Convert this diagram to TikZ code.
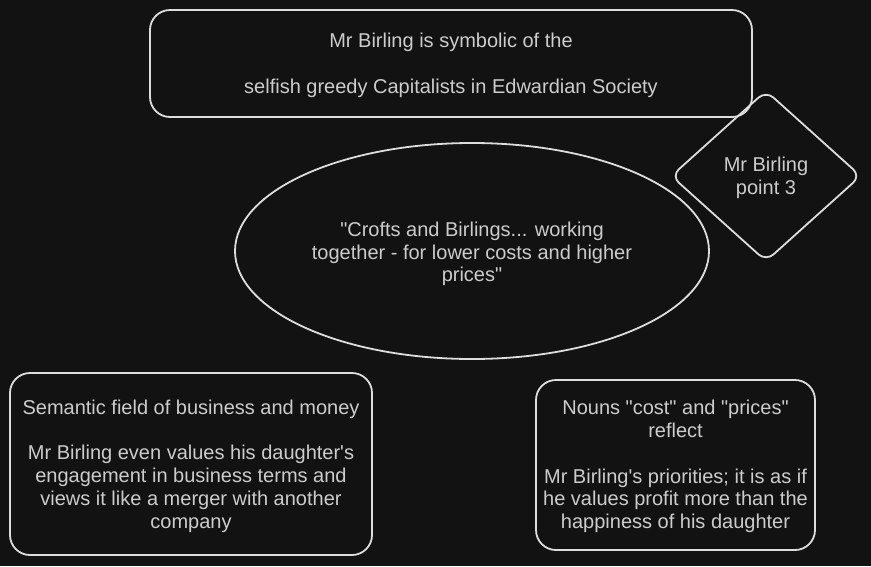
\documentclass[tikz,border=0pt]{standalone}
\usepackage{fontspec}
\setmainfont{Liberation Sans}[Ligatures=TeXOff]
\usetikzlibrary{shapes.geometric}
\definecolor{bg}{HTML}{121212}
\definecolor{ink}{HTML}{DDDDDD}
\definecolor{txt}{HTML}{CCCCCC}
\begin{document}
\begin{tikzpicture}[x=1pt,y=-1pt,
  lbl/.style={font=\fontsize{20}{22.8}\selectfont, text=txt, align=center, inner sep=0pt},
  box/.style={draw=ink, line width=1.8pt, rounded corners=20pt, rectangle, inner sep=0pt},
  ell/.style={draw=ink, line width=1.8pt, ellipse, inner sep=0pt},
  dia/.style={draw=ink, line width=1.8pt, diamond, rounded corners=10pt, inner sep=0pt}]
\fill[bg] (0,0) rectangle (871,566);
\useasboundingbox (0,0) rectangle (871,566);
\node[box, minimum width=602pt, minimum height=107pt] (top) at (451,63.5) {};
\node[lbl] (topt) at ([yshift=-2pt]top.center)
  {Mr Birling is symbolic of the\\[22.8pt] selfish greedy Capitalists in Edwardian Society};
\node[dia, minimum width=190pt, minimum height=171pt] (pt3) at (766,176) {};
\node[lbl] (pt3t) at ([yshift=-2pt]pt3.center) {Mr Birling\\ point 3};
\node[ell, minimum width=474pt, minimum height=216pt] (quote) at (472,251) {};
\node[lbl] (quotet) at ([yshift=-3pt]quote.center)
  {"Crofts and Birlings... working\\ together - for lower costs and higher\\ prices"};
\node[box, minimum width=362pt, minimum height=182pt] (sem) at (191,464) {};
\node[lbl] (semt) at ([yshift=-2pt]sem.center)
  {Semantic field of business and money\\[22.8pt] Mr Birling even values his daughter's\\ engagement in business terms and\\ views it like a merger with another\\ company};
\node[box, minimum width=279pt, minimum height=170pt] (nouns) at (675.5,465) {};
\node[lbl] (nounst) at ([yshift=-1.5pt]nouns.center)
  {Nouns "cost" and "prices"\\ reflect\\[22.8pt] Mr Birling's priorities; it is as if\\ he values profit more than the\\ happiness of his daughter};
\end{tikzpicture}
\end{document}
